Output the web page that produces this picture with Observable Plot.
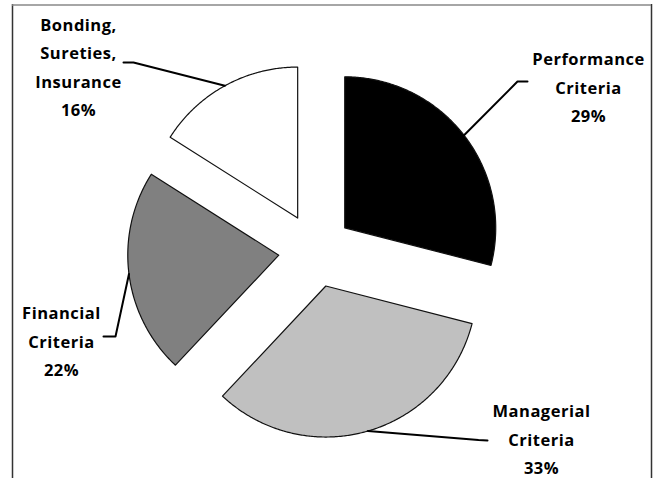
<!DOCTYPE html>
<html>
<head>
<meta charset="utf-8">
<script src="https://cdn.jsdelivr.net/npm/d3@7"></script>
<script src="https://cdn.jsdelivr.net/npm/@observablehq/plot@0.6"></script>
<style>
  html, body { margin: 0; padding: 0; background: #fff; }
  #chart svg { display: block; }
</style>
</head>
<body>
<div id="chart"></div>
<script>
// ---- data ----
const categories = ["Performance Criteria", "Managerial Criteria", "Financial Criteria", "Bonding, Sureties, Insurance"];
const shares = [29, 33, 22, 16];
const labelNames = ["Performance\nCriteria", "Managerial\nCriteria", "Financial\nCriteria", "Bonding,\nSureties,\nInsurance"];
const fills = ["#000000", "#c0c0c0", "#808080", "#ffffff"];

// ---- layout (pixel space of the 654x478 canvas) ----
const W = 654, H = 478;
const center = {x: 315, y: 250};
const R = 151;          // pie radius
const explode = 37;     // explosion distance of every slice
const labelAt = [       // label block centres
  {x: 588, y: 84},
  {x: 541, y: 436},
  {x: 61,  y: 338},
  {x: 78,  y: 64}
];
const leaderTo = [      // elbow and end of each leader line
  [{x: 517, y: 81}, {x: 527, y: 81}],
  [{x: 478, y: 439.5}, {x: 487, y: 440}],
  [{x: 115, y: 336}, {x: 103, y: 336}],
  [{x: 133, y: 62}, {x: 123, y: 62}]
];

// ---- geometry from the values ----
const arcs = d3.pie().sort(null).startAngle(0).endAngle(2 * Math.PI)(shares);
const total = d3.sum(shares);
const slicePts = [];
const leaderPts = [];
arcs.forEach((a, i) => {
  const name = categories[i];
  const mid = (a.startAngle + a.endAngle) / 2;
  const ox = center.x + explode * Math.sin(mid);
  const oy = center.y - explode * Math.cos(mid);
  slicePts.push({name, x: ox, y: oy});
  const n = Math.ceil((a.endAngle - a.startAngle) / (Math.PI / 360));
  for (let k = 0; k <= n; k++) {
    const t = a.startAngle + (a.endAngle - a.startAngle) * k / n;
    slicePts.push({name, x: ox + R * Math.sin(t), y: oy - R * Math.cos(t)});
  }
  leaderPts.push({name, x: ox + R * Math.sin(mid), y: oy - R * Math.cos(mid)});
  leaderTo[i].forEach(p => leaderPts.push({name, x: p.x, y: p.y}));
});
const labels = arcs.map((a, i) => ({
  name: categories[i],
  x: labelAt[i].x,
  y: labelAt[i].y,
  text: labelNames[i] + "\n" + Math.round(shares[i] / total * 100) + "%"
}));

const chart = Plot.plot({
  width: W,
  height: H,
  margin: 0,
  x: {domain: [0, W], axis: null},
  y: {domain: [0, H], reverse: true, axis: null},
  color: {domain: categories, range: fills},
  style: {background: "white", letterSpacing: "0.5px"},
  marks: [
    Plot.ruleX([12, 651], {y1: 4, y2: H, stroke: "#333", strokeWidth: 1.5}),
    Plot.ruleY([4.5], {x1: 12, x2: 651, stroke: "#888", strokeWidth: 1.5}),
    Plot.line(slicePts, {x: "x", y: "y", z: "name", fill: "name", stroke: "#111", strokeWidth: 1.2, curve: "linear-closed"}),
    Plot.line(leaderPts, {x: "x", y: "y", z: "name", stroke: "#000", strokeWidth: 2, curve: "linear"}),
    Plot.text(labels, {
      x: "x", y: "y", text: "text",
      fontSize: 16.5, fontWeight: "bold", fontFamily: "Open Sans",
      lineHeight: 1.72, lineAnchor: "middle", textAnchor: "middle", fill: "#000"
    })
  ]
});
document.getElementById("chart").append(chart);
</script>
</body>
</html>
